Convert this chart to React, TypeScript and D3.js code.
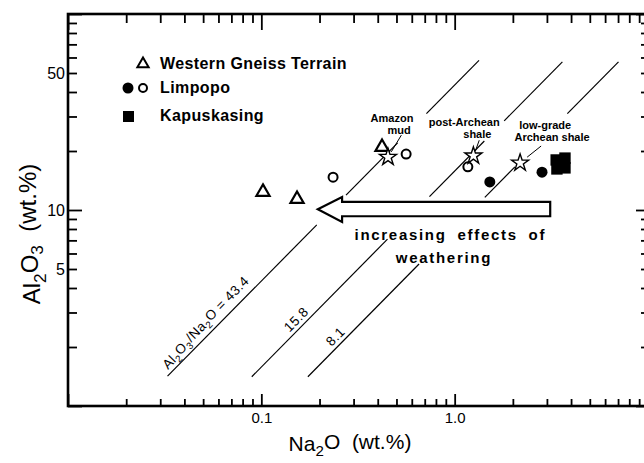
import React, { useEffect, useRef } from 'react';
import * as d3 from 'd3';

// values: Na2O and Al2O3 in wt.%
const westernNa2O = [0.102, 0.153, 0.421];
const westernAl2O3 = [12.5, 11.5, 21.2];
const limpopoOpenNa2O = [0.235, 0.561, 1.17];
const limpopoOpenAl2O3 = [14.7, 19.3, 16.6];
const limpopoFilledNa2O = [1.52, 2.83];
const limpopoFilledAl2O3 = [13.9, 15.6];
const kapuskasingNa2O = [3.35, 3.72, 3.38, 3.72];
const kapuskasingAl2O3 = [18.0, 18.4, 16.2, 16.4];
const shaleNa2O = [0.452, 1.25, 2.18];
const shaleAl2O3 = [18.6, 18.9, 17.4];

// Al2O3/Na2O reference lines, and the Al2O3 spans where each is drawn
const ratios = [43.4, 15.8, 8.1];
const ratioSegments = [
  [[1.42, 8.4], [11.9, 22], [31, 58]],
  [[1.41, 7.1], [11.7, 22.5], [28.5, 57]],
  [[1.41, 5.3], [11.6, 16.6], [31, 57]],
];
const ratioLabelNa2O = [0.034, 0.163, 0.26];

const xTickLabels = [0.1, 1];
const yTickLabels = [5, 10, 50];

type Part = { t: string; sub?: boolean };

const addRich = (sel: d3.Selection<SVGTextElement, unknown, null, undefined>, parts: Part[]) => {
  let down = false;
  parts.forEach(p => {
    const ts = sel.append('tspan').text(p.t);
    if (p.sub && !down) { ts.attr('dy', '0.32em').style('font-size', '72%'); down = true; }
    else if (p.sub) { ts.style('font-size', '72%'); }
    else if (down) { ts.attr('dy', '-0.32em'); down = false; }
  });
};

const Chart: React.FC = () => {
  const chartRef = useRef<SVGSVGElement>(null);

  useEffect(() => {
    if (!chartRef.current) return;
    const svg = d3.select(chartRef.current);
    svg.selectAll('*').remove();

    const width = 644;
    const height = 463;
    const margin = { top: 14, right: -4, bottom: 57, left: 68 };
    const left = margin.left;
    const right = width - margin.right;
    const top = margin.top;
    const bottom = height - margin.bottom;

    const x = d3.scaleLog().domain([0.01, 10]).range([left, right]);
    const y = d3.scaleLog().domain([1, 100]).range([bottom, top]);
    const isMajor = (v: number) => Math.abs(Math.log10(v) - Math.round(Math.log10(v))) < 1e-6;
    const font = "'Liberation Sans', Arial, sans-serif";

    svg.append('rect').attr('width', width).attr('height', height).attr('fill', '#fff');

    // ratio lines
    ratios.forEach((r, i) => {
      ratioSegments[i].forEach(([a0, a1]) => {
        svg.append('line')
          .attr('x1', x(a0 / r)).attr('y1', y(a0))
          .attr('x2', x(a1 / r)).attr('y2', y(a1))
          .attr('stroke', '#000').attr('stroke-width', 1.2);
      });
      const n = ratioLabelNa2O[i];
      const px = x(n);
      const py = y(n * r);
      const ang = Math.atan2(y(n * r * 2) - py, x(n * 2) - px) * 180 / Math.PI;
      const t = svg.append('text')
        .attr('transform', `translate(${px},${py}) rotate(${ang})`)
        .attr('dy', -4)
        .attr('text-anchor', i === 0 ? 'start' : 'middle')
        .style('font-family', font)
        .style('font-size', '13.5px')
        .style('letter-spacing', '0.5px');
      if (i === 0) {
        addRich(t, [{ t: 'Al' }, { t: '2', sub: true }, { t: 'O' }, { t: '3', sub: true }, { t: '/Na' }, { t: '2', sub: true }, { t: 'O = 43.4' }]);
      } else {
        t.text(String(r));
      }
    });

    // weathering arrow
    const arrow = [
      [0.196, 10.1], [0.2616, 11.66], [0.2616, 10.99], [3.12, 10.99],
      [3.12, 9.29], [0.2616, 9.29], [0.2616, 8.7],
    ];
    svg.append('path')
      .attr('d', d3.line()(arrow.map(([a, b]) => [x(a), y(b)] as [number, number])) + 'Z')
      .attr('fill', '#fff').attr('stroke', '#000').attr('stroke-width', 2.2)
      .attr('stroke-linejoin', 'miter');

    svg.append('text').attr('x', x(0.95)).attr('y', y(7.03))
      .attr('text-anchor', 'middle')
      .style('font-family', font).style('font-size', '15px').style('font-weight', 'bold')
      .style('letter-spacing', '1.7px').style('word-spacing', '5px')
      .text('increasing effects of');
    svg.append('text').attr('x', x(0.88)).attr('y', y(5.37))
      .attr('text-anchor', 'middle')
      .style('font-family', font).style('font-size', '15px').style('font-weight', 'bold')
      .style('letter-spacing', '1.7px')
      .text('weathering');

    // shale labels and pointers
    const notes: [string, number, number][] = [
      ['Amazon', 0.474, 29.5], ['mud', 0.516, 25.6],
      ['post-Archean', 1.12, 28.1], ['shale', 1.31, 24.4],
      ['low-grade', 2.94, 27.2], ['Archean shale', 3.19, 23.6],
    ];
    notes.forEach(([s, a, b]) => {
      svg.append('text').attr('x', x(a)).attr('y', y(b)).attr('dy', '0.35em')
        .attr('text-anchor', 'middle')
        .style('font-family', font).style('font-size', '11px').style('font-weight', 'bold')
        .text(s);
    });
    const pointers = [
      [[0.53, 24.1], [0.47, 19.8]],
      [[1.34, 22.7], [1.28, 20.0]],
      [[2.37, 18.6], [2.8, 21.2]],
    ];
    pointers.forEach(([p0, p1]) => {
      svg.append('line')
        .attr('x1', x(p0[0])).attr('y1', y(p0[1]))
        .attr('x2', x(p1[0])).attr('y2', y(p1[1]))
        .attr('stroke', '#000').attr('stroke-width', 1);
    });

    // data points
    const sym = (type: d3.SymbolType, size: number) => d3.symbol().type(type).size(size)() as string;
    svg.append('g').selectAll('path').data(westernNa2O).enter().append('path')
      .attr('d', sym(d3.symbolTriangle, 75))
      .attr('transform', (d, i) => `translate(${x(d)},${y(westernAl2O3[i]) + 1})`)
      .attr('fill', '#fff').attr('stroke', '#000').attr('stroke-width', 2.2);
    svg.append('g').selectAll('circle').data(limpopoOpenNa2O).enter().append('circle')
      .attr('cx', d => x(d)).attr('cy', (d, i) => y(limpopoOpenAl2O3[i])).attr('r', 4.5)
      .attr('fill', '#fff').attr('stroke', '#000').attr('stroke-width', 2);
    svg.append('g').selectAll('circle').data(limpopoFilledNa2O).enter().append('circle')
      .attr('cx', d => x(d)).attr('cy', (d, i) => y(limpopoFilledAl2O3[i])).attr('r', 5.5)
      .attr('fill', '#000');
    svg.append('g').selectAll('path').data(kapuskasingNa2O).enter().append('path')
      .attr('d', sym(d3.symbolSquare, 130))
      .attr('transform', (d, i) => `translate(${x(d)},${y(kapuskasingAl2O3[i])})`)
      .attr('fill', '#000');
    svg.append('g').selectAll('path').data(shaleNa2O).enter().append('path')
      .attr('d', sym(d3.symbolStar, 90))
      .attr('transform', (d, i) => `translate(${x(d)},${y(shaleAl2O3[i])})`)
      .attr('fill', '#fff').attr('stroke', '#000').attr('stroke-width', 1.4);

    // legend
    const lg = svg.append('g').style('font-family', font).style('font-size', '16px')
      .style('font-weight', 'bold').style('letter-spacing', '0.4px');
    lg.append('path').attr('d', sym(d3.symbolTriangle, 55)).attr('transform', 'translate(143,64)')
      .attr('fill', '#fff').attr('stroke', '#000').attr('stroke-width', 2);
    lg.append('text').attr('x', 160).attr('y', 63).attr('dy', '0.35em').text('Western Gneiss Terrain');
    lg.append('circle').attr('cx', 128).attr('cy', 88).attr('r', 5.5).attr('fill', '#000');
    lg.append('circle').attr('cx', 143).attr('cy', 88).attr('r', 4).attr('fill', '#fff').attr('stroke', '#000').attr('stroke-width', 2);
    lg.append('text').attr('x', 160).attr('y', 87).attr('dy', '0.35em').text('Limpopo');
    lg.append('rect').attr('x', 123).attr('y', 111).attr('width', 11).attr('height', 11).attr('fill', '#000');
    lg.append('text').attr('x', 160).attr('y', 115).attr('dy', '0.35em').text('Kapuskasing');

    // axes
    const styleAxis = (g: d3.Selection<SVGGElement, unknown, null, undefined>) => {
      g.select('.domain').remove();
      g.selectAll('.tick line').attr('stroke', '#000').attr('stroke-width', 1.8);
      g.selectAll('text').style('font-family', font).style('font-size', '15px').attr('fill', '#000');
    };
    const xt = x.ticks();
    const yt = y.ticks();
    const fmtX = (d: d3.NumberValue) => (xTickLabels.includes(+d) ? d3.format('.1f')(+d) : '');
    const fmtY = (d: d3.NumberValue) => (yTickLabels.includes(+d) ? String(+d) : '');

    const gb = svg.append('g').attr('transform', `translate(0,${bottom})`)
      .call(d3.axisBottom(x).tickValues(xt).tickFormat(fmtX).tickSize(-7).tickPadding(6));
    styleAxis(gb);
    gb.selectAll<SVGLineElement, number>('.tick line').attr('y2', d => (isMajor(d) ? -12 : -7));

    const gt = svg.append('g').attr('transform', `translate(0,${top})`)
      .call(d3.axisTop(x).tickValues(xt).tickFormat(() => '').tickSize(-9));
    styleAxis(gt);
    gt.selectAll<SVGLineElement, number>('.tick line').attr('y2', d => (isMajor(d) ? 16 : 9));

    const gl = svg.append('g').attr('transform', `translate(${left},0)`)
      .call(d3.axisLeft(y).tickValues(yt).tickFormat(fmtY).tickSize(-9).tickPadding(3));
    styleAxis(gl);
    gl.selectAll('text').style('font-size', '16px');
    gl.selectAll<SVGLineElement, number>('.tick line').attr('x2', d => (isMajor(d) ? 14 : 9));

    const gr = svg.append('g').attr('transform', `translate(${right},0)`)
      .call(d3.axisRight(y).tickValues(yt).tickFormat(() => '').tickSize(-7));
    styleAxis(gr);
    gr.selectAll<SVGLineElement, number>('.tick line').attr('x2', d => (isMajor(d) ? -12 : -7));

    // frame
    svg.append('rect').attr('x', left).attr('y', top)
      .attr('width', right - left).attr('height', bottom - top)
      .attr('fill', 'none').attr('stroke', '#000').attr('stroke-width', 2.6);

    // axis titles
    const xl = svg.append('text').attr('x', 350).attr('y', 451)
      .attr('text-anchor', 'middle')
      .style('font-family', font).style('font-size', '21px');
    addRich(xl, [{ t: 'Na' }, { t: '2', sub: true }, { t: 'O\u00a0\u00a0(wt.%)' }]);

    const yl = svg.append('text')
      .attr('transform', `translate(40,234) rotate(-90)`)
      .attr('text-anchor', 'middle')
      .style('font-family', font).style('font-size', '24px');
    addRich(yl, [{ t: 'Al' }, { t: '2', sub: true }, { t: 'O' }, { t: '3', sub: true }, { t: '\u00a0\u00a0(wt.%)' }]);
  }, []);

  return (
    <svg
      ref={chartRef}
      width={644}
      height={463}
      style={{ position: 'absolute', left: 0, top: 0, display: 'block' }}
    />
  );
};

export default function App() {
  return <Chart />;
}
